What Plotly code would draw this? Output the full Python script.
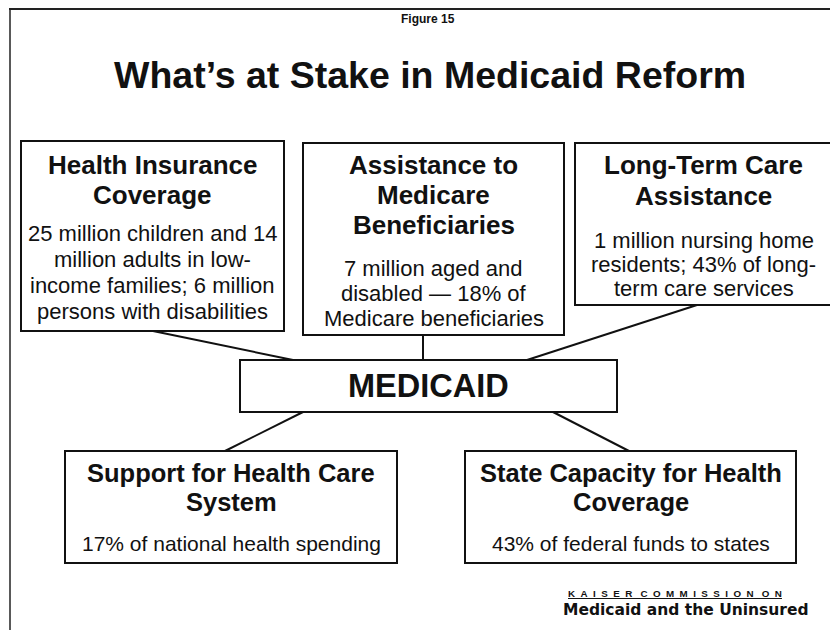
import plotly.graph_objects as go

# ---- text content ----
figure_label = "Figure 15"
main_title = "What’s at Stake in Medicaid Reform"
center_label = "MEDICAID"

box_titles = [
    ["Health Insurance", "Coverage"],
    ["Assistance to", "Medicare", "Beneficiaries"],
    ["Long-Term Care", "Assistance"],
    ["Support for Health Care", "System"],
    ["State Capacity for Health", "Coverage"],
]
box_bodies = [
    ["25 million children and 14", "million adults in low-", "income families; 6 million", "persons with disabilities"],
    ["7 million aged and", "disabled — 18% of", "Medicare beneficiaries"],
    ["1 million nursing home", "residents; 43% of long-", "term care services"],
    ["17% of national health spending"],
    ["43% of federal funds to states"],
]
source_line1 = ["KAISER", "COMMISSION", "ON"]
source_line2 = "Medicaid and the Uninsured"

# ---- layout geometry (pixel space of the page) ----
W, H = 838, 630
OFF = 8  # page body margin
boxes = [  # x0, x1, y0, y1
    (21, 284, 141, 331),
    (303, 564, 143, 335),
    (575, 832, 143, 305),
    (65, 397, 451, 563),
    (465, 796, 451, 563),
]
center_box = (240, 617, 360, 412)
title_y = [[165, 195], [165, 195, 225], [165, 196], [473, 502], [473, 502]]
body_y = [[233, 259, 285, 311], [268, 293, 318], [240, 264, 288], [543], [543]]
title_size = [26, 26, 26, 25.5, 25.5]
body_size = [22, 22, 22, 21, 21]
connectors = [
    ((153, 331), (293, 360)),
    ((423, 335), (423, 360)),
    ((697, 305), (527, 360)),
    ((303, 412), (225, 451)),
    ((553, 412), (629, 451)),
]

fig = go.Figure()
fig.add_trace(go.Scatter(x=[OFF, W], y=[OFF, H], mode="markers",
                         marker=dict(opacity=0), hoverinfo="skip", showlegend=False))

shapes = []
line = dict(color="#111111", width=2)
for (x0, x1, y0, y1) in boxes + [center_box]:
    shapes.append(dict(type="rect", xref="x", yref="y", x0=x0, x1=x1, y0=y0, y1=y1,
                       line=line, fillcolor="white", layer="below"))
for (a, b) in connectors:
    shapes.append(dict(type="line", xref="x", yref="y", x0=a[0], y0=a[1], x1=b[0], y1=b[1],
                       line=line, layer="below"))
# page frame (left and top edges)
shapes.append(dict(type="line", xref="x", yref="y", x0=10, y0=9, x1=10, y1=H, line=dict(color="#222", width=1.5)))
shapes.append(dict(type="line", xref="x", yref="y", x0=9, y0=9, x1=W, y1=9, line=dict(color="#222", width=2)))

ann = []
def txt(x, y, s, size, family="Liberation Sans", bold=False, xanchor="center"):
    ann.append(dict(x=x, y=y, xref="x", yref="y", text=("<b>%s</b>" % s) if bold else s,
                    showarrow=False, xanchor=xanchor, yanchor="middle", align=xanchor if xanchor != "center" else "center",
                    font=dict(family=family, size=size, color="#111111")))

txt(428, 19, figure_label, 12, bold=True)
txt(430, 75, main_title, 37.5, bold=True)
txt((center_box[0] + center_box[1]) / 2, (center_box[2] + center_box[3]) / 2, center_label, 32.5, bold=True)

for i, (x0, x1, y0, y1) in enumerate(boxes):
    cx = (x0 + x1) / 2
    for s, y in zip(box_titles[i], title_y[i]):
        txt(cx, y, s, title_size[i], bold=True)
    for s, y in zip(box_bodies[i], body_y[i]):
        txt(cx, y, s, body_size[i])

NB = "\u00a0"
spaced = (NB * 3).join((NB * 2).join(list(w)) for w in source_line1)
txt(566, 593, "<u>" + spaced + "</u>", 9.8, bold=True, xanchor="left")
txt(811, 610, source_line2, 15.5, family="DejaVu Sans", bold=True, xanchor="right")

fig.update_layout(
    width=W - OFF, height=H - OFF, margin=dict(l=0, r=0, t=0, b=0),
    paper_bgcolor="white", plot_bgcolor="white",
    xaxis=dict(range=[OFF, W], visible=False, fixedrange=True),
    yaxis=dict(range=[H, OFF], visible=False, fixedrange=True),
    shapes=shapes, annotations=ann, showlegend=False,
)
fig.write_html("out.html", config={"displayModeBar": False})
